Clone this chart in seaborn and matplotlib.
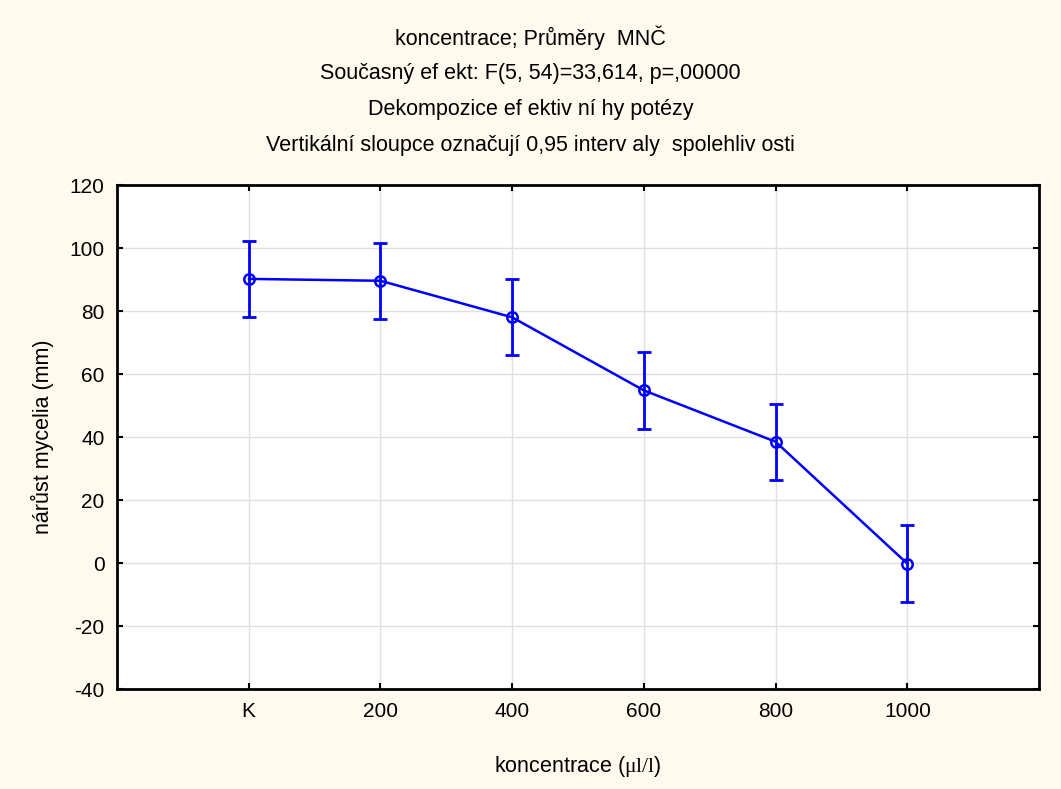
import numpy as np
import pandas as pd
import matplotlib
matplotlib.use("Agg")
import matplotlib.pyplot as plt
import seaborn as sns

# data
categories = ["K", "200", "400", "600", "800", "1000"]
means = [90.2, 89.6, 78.0, 54.8, 38.5, -0.2]
ci_low = [78.1, 77.6, 65.9, 42.7, 26.4, -12.3]
ci_high = [102.2, 101.7, 90.1, 66.9, 50.6, 12.0]

title_lines = [
    "koncentrace; Průměry  MNČ",
    "Současný ef ekt: F(5, 54)=33,614, p=,00000",
    "Dekompozice ef ektiv ní hy potézy",
    "Vertikální sloupce označují 0,95 interv aly  spolehliv osti",
]

sns.set_theme(style="whitegrid")
plt.rcParams["font.family"] = ["Liberation Sans", "DejaVu Sans"]
plt.rcParams["mathtext.fontset"] = "custom"
plt.rcParams["mathtext.rm"] = "Liberation Serif"
plt.rcParams["mathtext.it"] = "Liberation Serif:italic"
plt.rcParams["axes.unicode_minus"] = False
plt.rcParams["text.color"] = "black"
plt.rcParams["axes.labelcolor"] = "black"

bg = "#FFF9EE"
blue = "#0000FF"
fs = 15
fs_big = 15.5

df = pd.DataFrame({"pos": np.arange(1, len(categories) + 1), "mean": means})

fig = plt.figure(figsize=(10.61, 7.89), dpi=100, facecolor=bg)
ax = fig.add_axes([0.1103, 0.1267, 0.8690, 0.6388])
ax.set_facecolor("white")

sns.lineplot(data=df, x="pos", y="mean", ax=ax, color=blue, lw=1.8,
             marker="o", markersize=7.5, markerfacecolor="none",
             markeredgecolor=blue, markeredgewidth=1.8)
yerr = np.array([np.array(means) - np.array(ci_low), np.array(ci_high) - np.array(means)])
ax.errorbar(df["pos"], df["mean"], yerr=yerr, fmt="none", ecolor=blue,
            elinewidth=2, capsize=5, capthick=2)

ax.set_xlim(0, 7)
ax.set_ylim(-40, 120)
ax.set_xticks(df["pos"])
ax.set_xticklabels(categories)
ax.set_yticks(np.arange(-40, 121, 20))

ax.grid(True, color="#E0E0E0", lw=1)
for s in ax.spines.values():
    s.set_color("black")
    s.set_linewidth(2)
ax.tick_params(axis="both", direction="in", length=4, width=1.5, color="black",
               labelsize=fs, labelcolor="black", top=True, right=True,
               bottom=True, left=True, pad=9)

ax.set_xlabel(r"koncentrace ($\mathrm{\mu l/l}$)", fontsize=fs_big, labelpad=24)
ax.set_ylabel("nárůst mycelia (mm)", fontsize=fs_big, labelpad=11)

ys = [38, 73, 109, 145]
for txt, y in zip(title_lines, ys):
    fig.text(0.5, 1 - y / 789, txt, ha="center", va="center", fontsize=fs_big)

fig.savefig("out.png", dpi=100, facecolor=bg)
